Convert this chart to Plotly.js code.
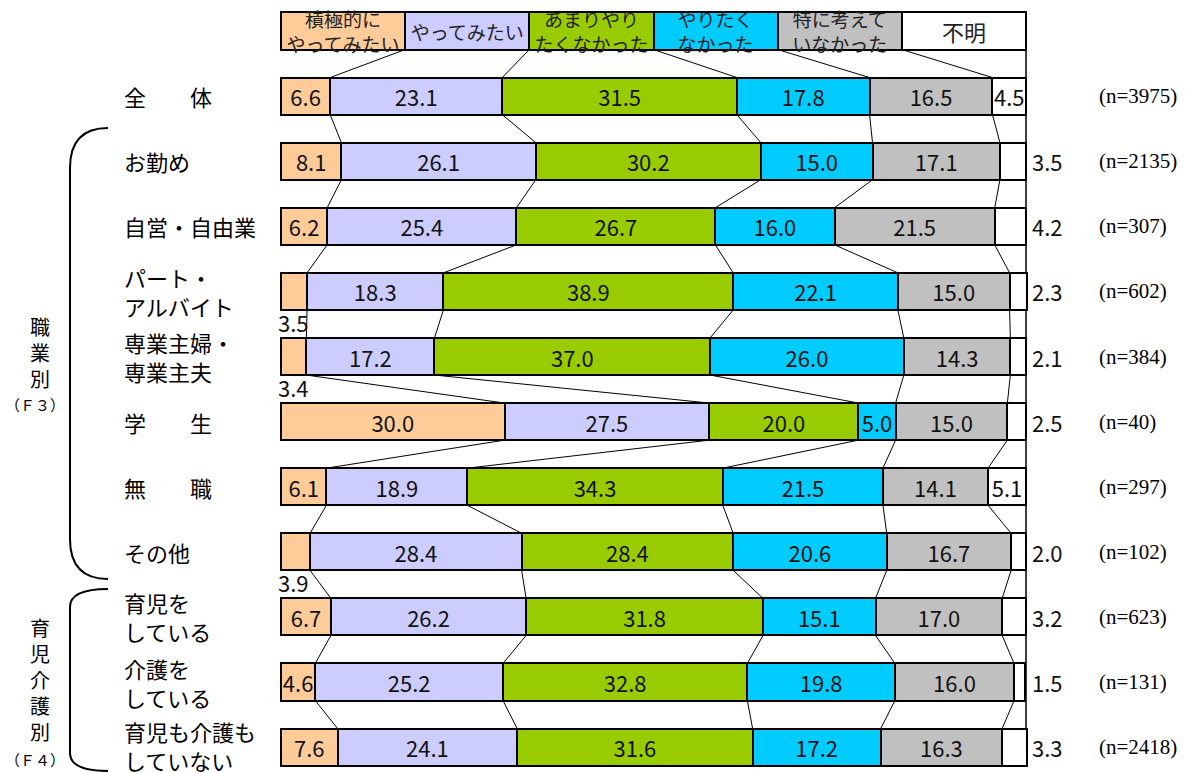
<!DOCTYPE html>
<html><head><meta charset="utf-8">
<script src="https://cdn.plot.ly/plotly-3.0.1.min.js"></script>
<style>html,body{margin:0;padding:0;background:#fff}#chart{width:1187px;height:773px}</style>
</head><body><div id="chart"></div>
<script>
// ---- data ----
const legendLabels = ['積極的に<br>やってみたい','やってみたい','あまりやり<br>たくなかった','やりたく<br>なかった','特に考えて<br>いなかった','不明'];
const categories = ['全　　体','お勤め','自営・自由業','パート・<br>アルバイト','専業主婦・<br>専業主夫','学　　生','無　　職','その他','育児を<br>している','介護を<br>している','育児も介護も<br>していない'];
const nLabels = ['(n=3975)','(n=2135)','(n=307)','(n=602)','(n=384)','(n=40)','(n=297)','(n=102)','(n=623)','(n=131)','(n=2418)'];
const sActive   = [6.6, 8.1, 6.2, 3.5, 3.4, 30.0, 6.1, 3.9, 6.7, 4.6, 7.6];
const sWant     = [23.1, 26.1, 25.4, 18.3, 17.2, 27.5, 18.9, 28.4, 26.2, 25.2, 24.1];
const sNotMuch  = [31.5, 30.2, 26.7, 38.9, 37.0, 20.0, 34.3, 28.4, 31.8, 32.8, 31.6];
const sNotWant  = [17.8, 15.0, 16.0, 22.1, 26.0, 5.0, 21.5, 20.6, 15.1, 19.8, 17.2];
const sNoThought= [16.5, 17.1, 21.5, 15.0, 14.3, 15.0, 14.1, 16.7, 17.0, 16.0, 16.3];
const sUnknown  = [4.5, 3.5, 4.2, 2.3, 2.1, 2.5, 5.1, 2.0, 3.2, 1.5, 3.3];
const groupLabels = ['職<br>業<br>別','（Ｆ３）','育<br>児<br>介<br>護<br>別','（Ｆ４）'];

// ---- styling ----
const series = [sActive, sWant, sNotMuch, sNotWant, sNoThought, sUnknown];
const colors = ['#FFCC99','#CCCCFF','#99CC00','#00CCFF','#C0C0C0','#FFFFFF'];
const W = 1187, H = 773;
const BW = 0.57, HALF = BW/2;
const JP = '"Noto Sans CJK JP", "Noto Sans", sans-serif';
const nRows = categories.length;
const yRows = categories.map((_, i) => i + 1);
const legendVal = 100 / 6;
const SMALL = 4.5;

const traces = series.map((vals, k) => {
  const text = [legendLabels[k]].concat(vals.map(v => {
    if ((k === 0 || k === 5) && v < SMALL) return '';
    return v.toFixed(1);
  }));
  const sizes = [k === 5 ? 22 : 19].concat(vals.map(() => 22));
  const fcol = ['#222'].concat(vals.map(() => '#111'));
  return {
    type: 'bar', orientation: 'h',
    x: [legendVal].concat(vals), y: [0].concat(yRows),
    width: BW,
    marker: {color: colors[k], line: {color: '#000', width: 2}},
    text: text, textposition: 'inside', insidetextanchor: 'middle',
    textangle: 0, constraintext: 'none',
    textfont: {family: JP, size: sizes, color: fcol},
    hoverinfo: 'skip', showlegend: false, cliponaxis: false
  };
});

// cumulative boundaries (legend row first)
const cumRows = [];
{
  const lg = []; let c = 0;
  for (let k = 0; k < 6; k++) { c += legendVal; lg.push(c); }
  cumRows.push(lg);
  for (let i = 0; i < nRows; i++) {
    const r = []; let s = 0;
    for (let k = 0; k < 6; k++) { s += series[k][i]; r.push(s); }
    cumRows.push(r);
  }
}
const shapes = [];
for (let i = 0; i < cumRows.length - 1; i++) {
  for (let k = 0; k < 5; k++) {
    shapes.push({type: 'line', xref: 'x', yref: 'y',
      x0: cumRows[i][k], y0: i + HALF, x1: cumRows[i+1][k], y1: i + 1 - HALF,
      line: {color: '#000', width: 1}, layer: 'above'});
  }
}
// right vertical line at 100%
shapes.push({type: 'line', xref: 'x', yref: 'y', x0: 100, x1: 100, y0: -HALF, y1: nRows + HALF,
  line: {color: '#000', width: 1.5}, layer: 'below'});

// braces (pixel -> paper)
const px = x => (x / W).toFixed(5), py = y => (1 - y / H).toFixed(5);
function brace(x1, yTop, x0, yBot, r) {
  return `M ${px(x1)},${py(yTop)} Q ${px(x0)},${py(yTop)} ${px(x0)},${py(yTop + r)} ` +
         `L ${px(x0)},${py(yBot - r)} Q ${px(x0)},${py(yBot)} ${px(x1)},${py(yBot)}`;
}
shapes.push({type: 'path', xref: 'paper', yref: 'paper', path: brace(108, 128, 70, 579, 40), line: {color: '#000', width: 2}});
shapes.push({type: 'path', xref: 'paper', yref: 'paper', path: brace(108, 589, 70, 771, 18), line: {color: '#000', width: 2}});

const annotations = [];
// row labels
categories.forEach((c, i) => annotations.push({
  xref: 'paper', yref: 'y', x: 122 / W, y: yRows[i], text: c, showarrow: false,
  xanchor: 'left', yanchor: 'middle', align: 'left', yshift: (i === nRows - 1 ? 2 : 0),
  font: {family: JP, size: 22, color: '#000'}
}));
// n labels
nLabels.forEach((n, i) => annotations.push({
  xref: 'paper', yref: 'y', x: 1097 / W, y: yRows[i], text: n, showarrow: false,
  xanchor: 'left', yanchor: 'middle',
  font: {family: '"Liberation Serif", "DejaVu Serif", serif', size: 21, color: '#000'}
}));
// small values outside
for (let i = 0; i < nRows; i++) {
  if (sUnknown[i] < SMALL) annotations.push({
    xref: 'x', yref: 'y', x: 100.6, y: yRows[i], text: sUnknown[i].toFixed(1), showarrow: false,
    xanchor: 'left', yanchor: 'middle', font: {family: JP, size: 22, color: '#111'}
  });
  if (sActive[i] < SMALL) annotations.push({
    xref: 'x', yref: 'y', x: -0.7, y: yRows[i] + 0.47, text: sActive[i].toFixed(1), showarrow: false,
    xanchor: 'left', yanchor: 'middle', font: {family: JP, size: 22, color: '#111'}
  });
}
// group labels
annotations.push({xref: 'paper', yref: 'paper', x: 40 / W, y: py(353), text: groupLabels[0], showarrow: false,
  xanchor: 'center', yanchor: 'middle', font: {family: JP, size: 20, color: '#000'}});
annotations.push({xref: 'paper', yref: 'paper', x: 35 / W, y: py(405), text: groupLabels[1], showarrow: false,
  xanchor: 'center', yanchor: 'middle', font: {family: JP, size: 15, color: '#000'}});
annotations.push({xref: 'paper', yref: 'paper', x: 40 / W, y: py(679), text: groupLabels[2], showarrow: false,
  xanchor: 'center', yanchor: 'middle', font: {family: JP, size: 20, color: '#000'}});
annotations.push({xref: 'paper', yref: 'paper', x: 35 / W, y: py(759), text: groupLabels[3], showarrow: false,
  xanchor: 'center', yanchor: 'middle', font: {family: JP, size: 15, color: '#000'}});

const pxPerUnit = 7.45;
const layout = {
  width: W, height: H,
  margin: {l: 0, r: 0, t: 0, b: 0, pad: 0},
  paper_bgcolor: '#fff', plot_bgcolor: '#fff',
  barmode: 'stack', bargap: 0,
  showlegend: false,
  xaxis: {range: [-281 / pxPerUnit, (W - 281) / pxPerUnit], visible: false, fixedrange: true},
  yaxis: {range: [(H - 31) / 65.1, -31 / 65.1], visible: false, fixedrange: true},
  shapes: shapes, annotations: annotations,
  font: {family: JP}
};
Plotly.newPlot('chart', traces, layout, {staticPlot: true});
</script>
</body></html>
